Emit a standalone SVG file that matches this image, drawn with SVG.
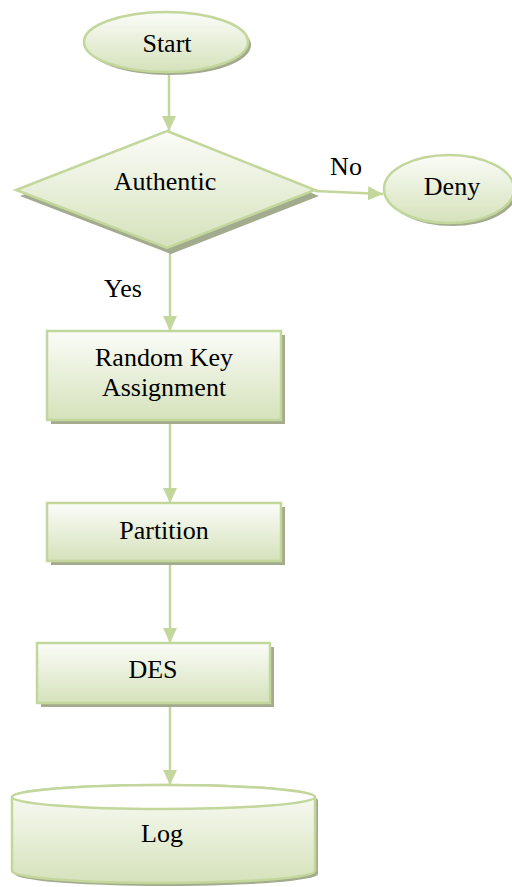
<svg xmlns="http://www.w3.org/2000/svg" width="512" height="887" viewBox="0 0 512 887">
<defs>
<linearGradient id="g" x1="0" y1="0" x2="0" y2="1">
<stop offset="0" stop-color="#fbfcf8"/>
<stop offset="1" stop-color="#d5e2bb"/>
</linearGradient>
<marker id="ah" markerUnits="userSpaceOnUse" markerWidth="16" markerHeight="16" viewBox="0 0 16 16" refX="15" refY="8" orient="auto">
<path d="M0,1 L15,8 L0,15 Z" fill="#c3d69b"/>
</marker>
</defs>
<style>
.shape{fill:url(#g);stroke:#c3d69b;stroke-width:2.5}
.shadow{fill:#a3ab8e}
.lbl{font-size:26px;fill:#000;text-anchor:middle}
.conn{stroke:#c3d69b;stroke-width:2.5;fill:none;marker-end:url(#ah)}
</style>
<rect width="512" height="887" fill="#fff"/>
<g id="connectors">
<line class="conn" x1="169" y1="73" x2="169" y2="131"/>
<line class="conn" x1="315" y1="191" x2="383" y2="194"/>
<line class="conn" x1="170" y1="249" x2="170" y2="331"/>
<line class="conn" x1="170" y1="421" x2="170" y2="503"/>
<line class="conn" x1="170" y1="562" x2="170" y2="643"/>
<line class="conn" x1="170" y1="704" x2="170" y2="785"/>
</g>
<g font-family="'Liberation Serif', 'Times New Roman', serif">
<g id="start">
<ellipse class="shadow" cx="169" cy="45" rx="82" ry="30"/>
<ellipse class="shape" cx="166" cy="42" rx="82" ry="30"/>
<text class="lbl" x="167" y="52">Start</text>
</g>
<g id="authentic">
<polygon class="shadow" points="171,137 319,196 171,254 20,196"/>
<polygon class="shape" points="167,131 315,190 167,248 16,190"/>
<text class="lbl" x="165" y="190">Authentic</text>
</g>
<g id="deny">
<ellipse class="shadow" cx="452" cy="192" rx="65" ry="34"/>
<ellipse class="shape" cx="449" cy="189" rx="65" ry="34"/>
<text class="lbl" x="452" y="195">Deny</text>
</g>
<text class="lbl" x="346" y="175">No</text>
<text class="lbl" x="123" y="297">Yes</text>
<g id="random-key">
<rect class="shadow" x="51" y="335" width="234" height="89"/>
<rect class="shape" x="47" y="331" width="234" height="89"/>
<text class="lbl" x="164" y="366">Random Key</text>
<text class="lbl" x="164" y="396">Assignment</text>
</g>
<g id="partition">
<rect class="shadow" x="51" y="507" width="234" height="58"/>
<rect class="shape" x="47" y="503" width="234" height="58"/>
<text class="lbl" x="164" y="539">Partition</text>
</g>
<g id="des">
<rect class="shadow" x="41" y="647" width="233" height="60"/>
<rect class="shape" x="37" y="643" width="233" height="60"/>
<text class="lbl" x="153" y="678">DES</text>
</g>
<g id="log">
<path class="shadow" d="M15,800 A151,12 0 0 1 318,800 L318,874 A151,12 0 0 1 15,874 Z"/>
<path class="shape" d="M12,797 A151,12 0 0 1 315,797 L315,871 A151,12 0 0 1 12,871 Z"/>
<ellipse cx="163.5" cy="797" rx="151.5" ry="12" fill="#fff" stroke="#c3d69b" stroke-width="2.5"/>
<text class="lbl" x="162" y="842">Log</text>
</g>
</g>
</svg>
